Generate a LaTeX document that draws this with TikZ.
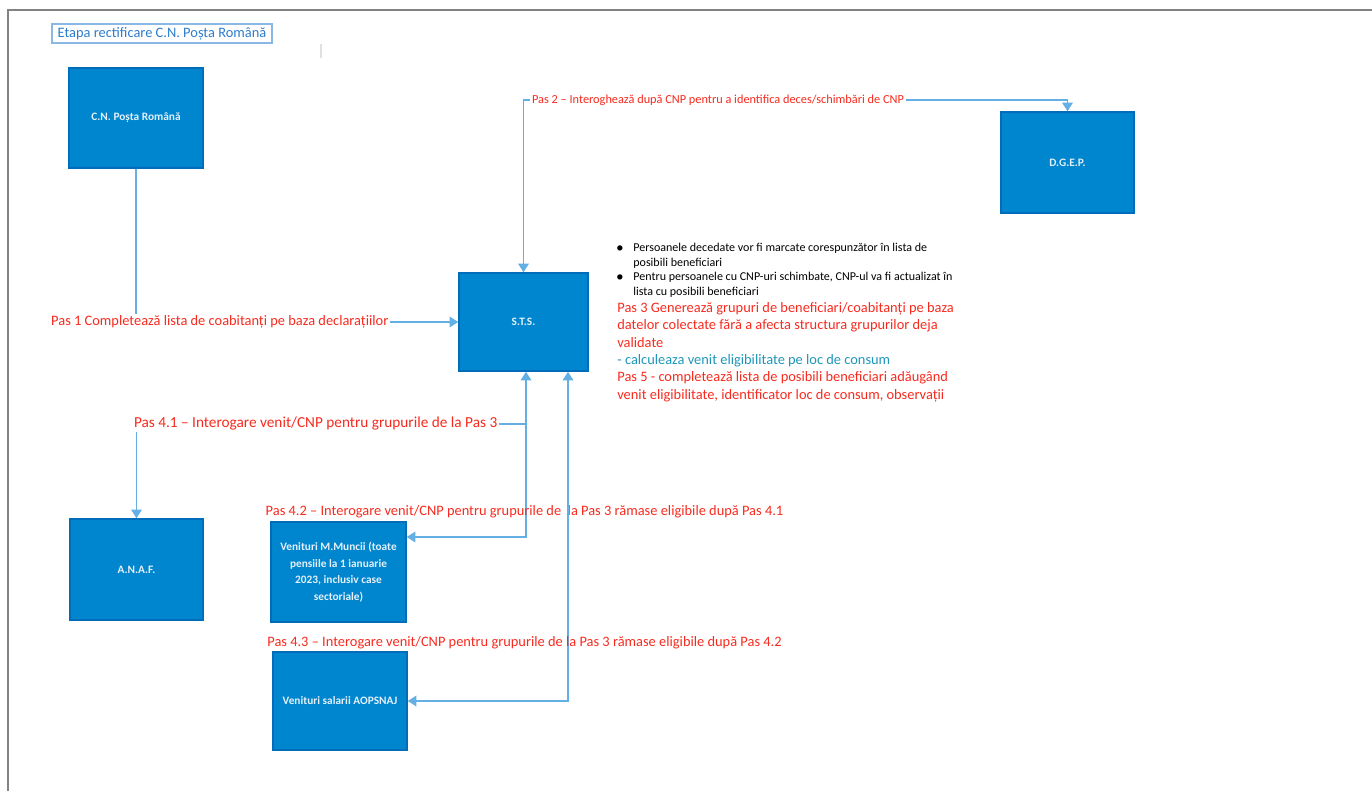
\documentclass[tikz,border=0pt]{standalone}
\usepackage{fontspec}
\setmainfont{Carlito}
\usetikzlibrary{arrows.meta,positioning}

\definecolor{boxblue}{RGB}{0,134,206}
\definecolor{boxedge}{RGB}{0,108,186}
\definecolor{boxtext}{RGB}{228,240,250}
\definecolor{linkblue}{RGB}{100,175,228}
\definecolor{pasred}{RGB}{248,42,30}
\definecolor{calcteal}{RGB}{30,150,185}
\definecolor{titleblue}{RGB}{45,125,205}
\definecolor{pagegray}{RGB}{130,130,130}

\newcommand{\paslabel}{\fontsize{8.2}{9.9}\selectfont}
\newcommand{\passmall}{\fontsize{7}{8.5}\selectfont}
\newcommand{\notesize}{\fontsize{6.85}{8.3}\selectfont}
\newcommand{\boxsize}{\fontsize{6.45}{9.5}\selectfont\bfseries}

\begin{document}
\begin{tikzpicture}[x=0.02cm,y=-0.02cm,>={Triangle[width=6pt,length=5pt]}]
  \tikzstyle{org}=[rectangle,draw=boxedge,line width=0.8pt,fill=boxblue,text=boxtext,
                   font=\boxsize,align=center,inner sep=0pt]
  \tikzstyle{conn}=[draw=linkblue,line width=1.1pt]
  \tikzstyle{pas}=[text=pasred,font=\paslabel,inner sep=1pt]

  \useasboundingbox (0,0) rectangle (1372,791);
  % page edge
  \draw[pagegray,line width=1.2pt] (8,791) -- (8,10) -- (1372,10);
  \draw[black!12,line width=0.6pt] (321,44) -- (321,58);

  \node[draw=titleblue!55,line width=0.6pt,text=titleblue,font=\fontsize{8.2}{9}\selectfont,
        minimum width=4.4cm,minimum height=0.38cm,inner sep=0pt] (titlu) at (162,33.5)
        {Etapa rectificare C.N. Poșta Română};

  % institutii
  \node[org,minimum width=2.68cm,minimum height=2cm] (cnpr)    at (136,118)   {C.N. Poșta Română};
  \node[org,minimum width=2.66cm,minimum height=2.02cm] (dgep) at (1067.5,162.5) {D.G.E.P.};
  \node[org,minimum width=2.58cm,minimum height=1.96cm] (sts)  at (523.5,322) {S.T.S.};
  \node[org,minimum width=2.66cm,minimum height=2.02cm] (anaf) at (136.5,569.5) {A.N.A.F.};
  \node[org,minimum width=2.7cm,minimum height=2cm] (muncii)   at (338.5,572)
        {Venituri M.Muncii (toate\\pensiile la 1 ianuarie\\2023, inclusiv case\\sectoriale)};
  \node[org,minimum width=2.68cm,minimum height=1.96cm] (salarii) at (340,701)
        {Venituri salarii AOPSNAJ};

  % Pas 1
  \draw[conn,->] (cnpr.south) |- (sts.west)
        node[pas,fill=white,pos=0.63] {Pas 1 Completează lista de coabitanți pe baza declarațiilor};

  % Pas 2
  \coordinate (k2) at (1067.5,100);
  \draw[conn,<->] (sts.north) |- (k2) -- (dgep.north);
  \node[text=pasred,font=\passmall,fill=white,inner sep=1pt] (pas2) at (718,100)
        {Pas 2 – Interoghează după CNP pentru a identifica deces/schimbări de CNP};

  % Pas 4.1 / 4.2
  \coordinate (j1) at (526,424);
  \coordinate (j2) at (526,537);
  \draw[conn,<->] (sts.south -| j1) -- (j2) -- (j2 -| muncii.east);
  \draw[conn,->] (j1) -| (anaf.north)
        node[pas,fill=white,pos=0.27,font=\fontsize{8.7}{10}\selectfont]
        {Pas 4.1 – Interogare venit/CNP pentru grupurile de la Pas 3};
  \node[pas] (pas42) at (524.5,512)
        {Pas 4.2 – Interogare venit/CNP pentru grupurile de\ \ la Pas 3 rămase eligibile după Pas 4.1};

  % Pas 4.3
  \coordinate (j3) at (568,701);
  \draw[conn,<->] (sts.south -| j3) -- (j3) -- (j3 -| salarii.east);
  \node[pas] (pas43) at (524.5,643)
        {Pas 4.3 – Interogare venit/CNP pentru grupurile de la Pas 3 rămase eligibile după Pas 4.2};

  % note STS
  \node[anchor=north west,font=\notesize,inner sep=0pt,align=left] (note) at (616,241)
        {\begin{tabular}{@{}p{0.34cm}@{}p{7cm}@{}}
          $\bullet$ & Persoanele decedate vor fi marcate corespunzător în lista de\\
                    & posibili beneficiari\\
          $\bullet$ & Pentru persoanele cu CNP-uri schimbate, CNP-ul va fi actualizat în\\
                    & lista cu posibili beneficiari
         \end{tabular}};
  \node[anchor=north west,text=pasred,font=\paslabel,inner sep=0pt,align=left] (pas35) at (617,302)
        {Pas 3 Generează grupuri de beneficiari/coabitanți pe baza\\
         datelor colectate fără a afecta structura grupurilor deja\\
         validate\\
         \textcolor{calcteal}{- calculeaza venit eligibilitate pe loc de consum}\\
         Pas 5 - completează lista de posibili beneficiari adăugând\\
         venit eligibilitate, identificator loc de consum, observații};
\end{tikzpicture}
\end{document}
